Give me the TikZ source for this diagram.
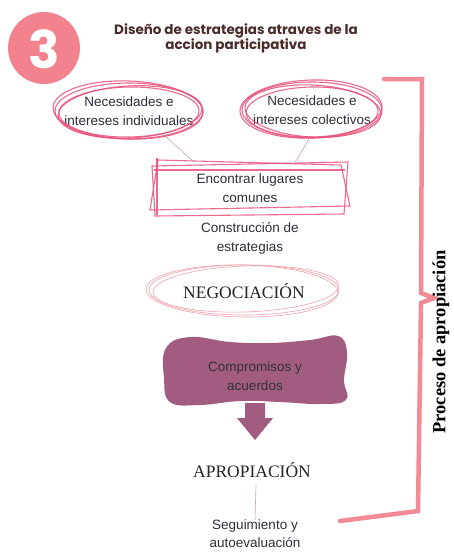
\documentclass[tikz,border=0pt]{standalone}
\usepackage{fontspec}
\setmainfont{Liberation Sans}
\newfontfamily\poppins{Poppins}
\newfontfamily\serifx{Liberation Serif}
\usetikzlibrary{shapes.geometric}
\definecolor{circpink}{HTML}{F2838E}
\definecolor{hotpink}{HTML}{E8507A}
\definecolor{lightpink}{HTML}{F0A2AC}
\definecolor{brackpink}{HTML}{F48A95}
\definecolor{plum}{HTML}{A15C80}
\definecolor{titlebrown}{HTML}{4A2C28}
\definecolor{txtdark}{HTML}{2E2E3C}
\definecolor{conncol}{HTML}{C9A3AC}
\tikzset{
  txt/.style={font=\fontsize{13.5}{19}\selectfont, text=txtdark, align=center, inner sep=0pt},
  bigserif/.style={font=\serifx\fontsize{17.5}{20}\selectfont, text=black!85, inner sep=0pt},
  sk/.style={draw=hotpink, line width=1.1pt, opacity=0.85},
  skthin/.style={draw=lightpink, line width=0.6pt},
  conn/.style={draw=conncol, line width=0.6pt},
  bracket/.style={draw=brackpink, line width=4.5pt, line join=miter, line cap=round},
}
\begin{document}
\begin{tikzpicture}[x=1pt,y=-1pt]
\fill[white] (0,0) rectangle (454,554);
\useasboundingbox (0,0) rectangle (454,554);

% number badge
\node[circle, fill=circpink, minimum size=72pt, inner sep=0pt] (badge) at (44,48) {};
\node[font=\poppins\bfseries\fontsize{52}{52}\selectfont, text=white, inner sep=0pt] (three) at (44,49) {3};

% title
\node[font=\poppins\bfseries\fontsize{13.5}{15}\selectfont, text=titlebrown, align=center, inner sep=0pt] (title) at (236,38)
  {Diseño de estrategias atraves de la\\accion participativa};

% ellipse nodes
\node[txt, ellipse, minimum width=148pt, minimum height=56pt] (ind) at (129,111) {Necesidades e\\intereses individuales};
\node[txt, ellipse, minimum width=140pt, minimum height=56pt] (col) at (312,110) {Necesidades e\\intereses colectivos};
\foreach \c/\r/\rx/\ry in {{(129,111)}/0/74/28, {(130,112)}/3/72/26, {(128,110)}/-2/75/29, {(129,112)}/1/70/25}{
  \draw[sk, rotate around={\r:(129,111)}] \c ellipse (\rx pt and \ry pt);
}
\foreach \c/\r/\rx/\ry in {{(312,110)}/0/70/28, {(313,111)}/-3/68/26, {(311,109)}/2/71/29, {(312,112)}/1/66/25}{
  \draw[sk, rotate around={\r:(312,110)}] \c ellipse (\rx pt and \ry pt);
}

% box
\node[txt, rectangle, minimum width=190pt, minimum height=52pt] (box) at (250,188) {Encontrar lugares\\comunes};
\draw[sk] (152,166) -- (348,162) -- (344,214) -- (155,216) -- cycle;
\draw[sk] (158,160) -- (341,165) -- (350,206) -- (150,210) -- cycle;
\draw[sk] (157,158) -- (157,215);
\draw[sk] (154,170) -- (345,170);

\draw[conn] (ind.-35) -- (box.155);
\draw[conn] (col.-95) -- (box.30);

% construction
\node[txt] (constr) at (250,238) {Construcción de\\estrategias};

% negociacion
\node[bigserif, ellipse, minimum width=190pt, minimum height=50pt] (neg) at (244,291) {NEGOCIACIÓN};
\draw[skthin] (244,290) ellipse (95pt and 25pt);
\draw[skthin, rotate around={2:(244,290)}] (246,289) ellipse (93pt and 23pt);
\draw[skthin, rotate around={-1:(244,290)}] (242,291) ellipse (96pt and 26pt);

% compromisos blob
\fill[plum] plot[smooth cycle, tension=0.7] coordinates {
  (166,348) (190,337) (230,342) (270,343) (310,340) (338,336) (347,352)
  (344,380) (346,400) (320,404) (280,402) (240,401) (200,405) (170,402) (164,378)};
\node[txt, text=black!80] (comp) at (255,376) {Compromisos y\\acuerdos};
\fill[plum] (245,403) -- (265,403) -- (265,418) -- (273,418) -- (255,440) -- (237,418) -- (245,418) -- cycle;

% apropiacion
\node[bigserif] (apro) at (252,470) {APROPIACIÓN};
\node[txt, font=\fontsize{13.5}{18}\selectfont] (seg) at (255,534) {Seguimiento y\\autoevaluación};
\draw[conn] (256,485) -- (seg.north);

% bracket
\draw[bracket] (384,79) -- (422,79) -- (421,293) -- (434,298) -- (421,303) -- (418,511) -- (340,521);
\node[font=\serifx\bfseries\fontsize{18.5}{20}\selectfont, rotate=90, inner sep=0pt] (proc) at (441,342) {Proceso de apropiación};
\end{tikzpicture}
\end{document}
